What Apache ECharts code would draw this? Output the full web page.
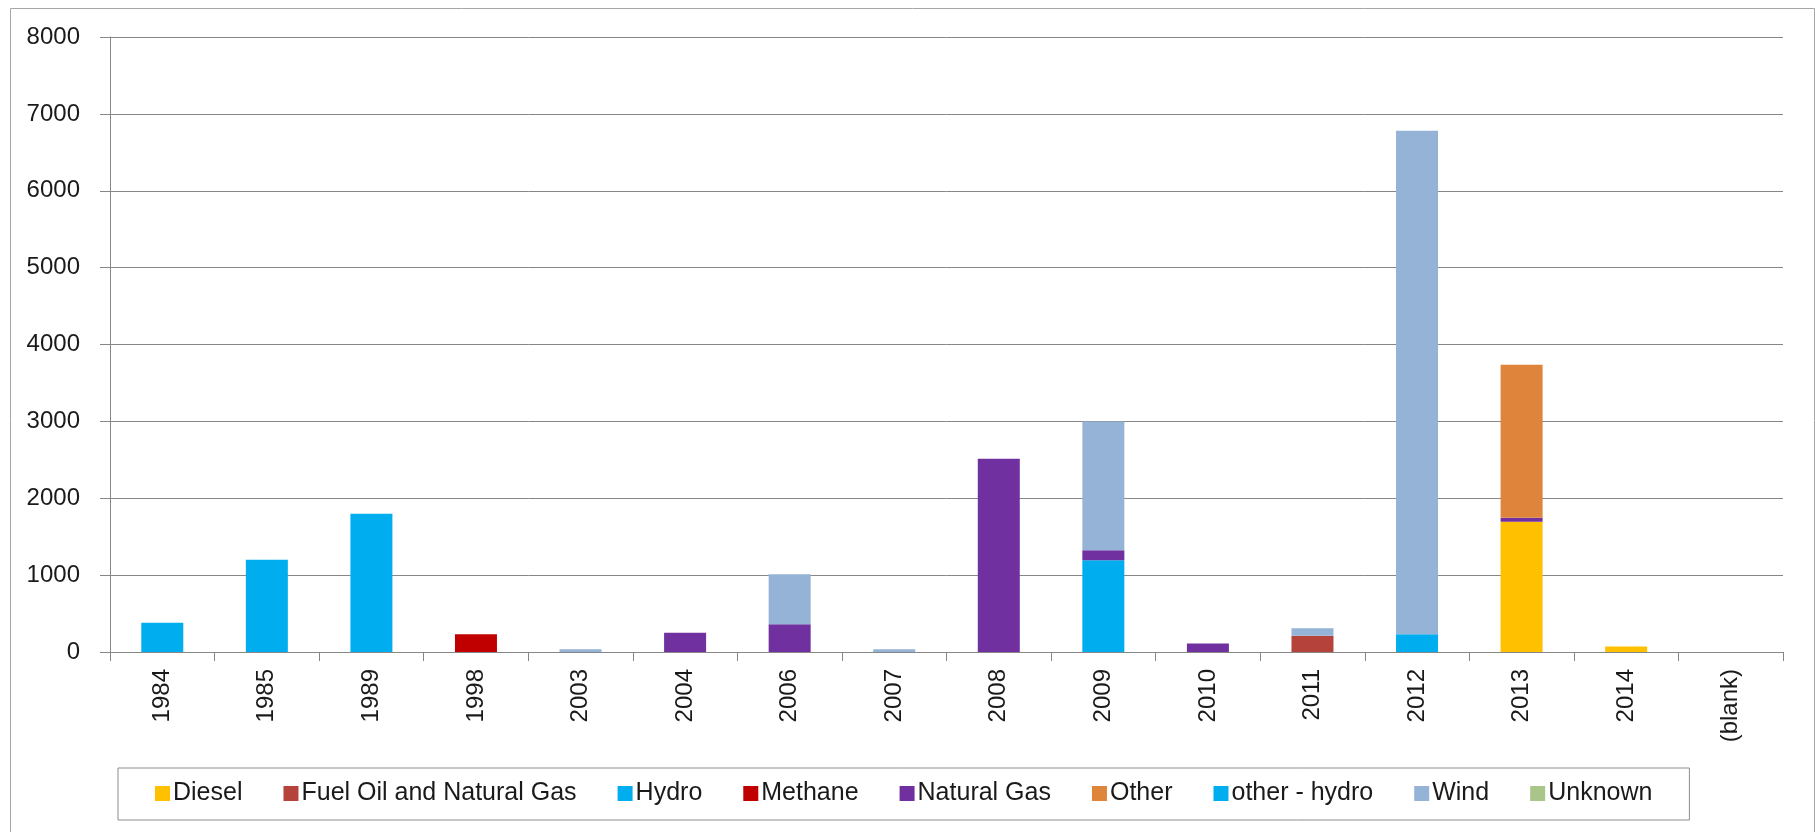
<!DOCTYPE html>
<html>
<head>
<meta charset="utf-8">
<title>Capacity by year and fuel type</title>
<script src="https://cdn.jsdelivr.net/npm/echarts@6/dist/echarts.min.js"></script>
<style>
    html, body { margin: 0; padding: 0; background: #fff; }
    #columns_stacked { width: 1815px; height: 832px; }
</style>
</head>
<body>
<div id="columns_stacked"></div>
<script>
/* ------------------------------------------------------------------------------
 *
 *  # Stacked columns - capacity by year and fuel type
 *
 * ---------------------------------------------------------------------------- */

// Data
// ------------------------------

var years = ['1984', '1985', '1989', '1998', '2003', '2004', '2006', '2007',
             '2008', '2009', '2010', '2011', '2012', '2013', '2014', '(blank)'];

var diesel      = [0, 0, 0, 0, 0, 0, 0, 0, 0, 0, 0, 0, 0, 1695, 70, 0];
var fuelOilGas  = [0, 0, 0, 0, 0, 0, 0, 0, 0, 0, 0, 210, 0, 0, 0, 0];
var hydro       = [380, 1200, 1800, 0, 0, 0, 0, 0, 0, 1195, 0, 0, 230, 0, 0, 0];
var methane     = [0, 0, 0, 230, 0, 0, 0, 0, 0, 0, 0, 0, 0, 0, 0, 0];
var naturalGas  = [0, 0, 0, 0, 0, 250, 360, 0, 2515, 130, 110, 0, 0, 50, 0, 0];
var other       = [0, 0, 0, 0, 0, 0, 0, 0, 0, 0, 0, 0, 0, 1990, 0, 0];
var otherHydro  = [0, 0, 0, 0, 0, 0, 0, 0, 0, 0, 0, 0, 0, 0, 0, 0];
var wind        = [0, 0, 0, 0, 35, 0, 650, 35, 0, 1675, 0, 100, 6550, 0, 0, 0];
var unknown     = [0, 0, 0, 0, 0, 0, 0, 0, 0, 0, 0, 0, 0, 0, 0, 0];

var yTicks = [0, 1000, 2000, 3000, 4000, 5000, 6000, 7000, 8000];


// Setup module
// ------------------------------

var EchartsColumnsStacked = function() {

    // Build one stacked bar series
    var _bar = function(name, data, color) {
        return {
            name: name,
            type: 'bar',
            stack: 'total',
            barWidth: 42,
            data: data,
            itemStyle: {
                color: color
            }
        };
    };

    var _columnsStacked = function() {
        if (typeof echarts == 'undefined') {
            console.warn('Warning - echarts.min.js is not loaded.');
            return;
        }

        var element = document.getElementById('columns_stacked');
        if (!element) return;

        var chart = echarts.init(element, null, { renderer: 'canvas' });

        var axisGray = '#878787';
        var font = '"Liberation Sans", Arial, sans-serif';

        chart.setOption({
            animation: false,
            backgroundColor: '#fff',

            textStyle: {
                fontFamily: font
            },

            // Outer chart border
            graphic: [{
                type: 'rect',
                left: 8,
                top: 6,
                shape: { width: 1804, height: 824 },
                style: { fill: 'none', stroke: '#a6a6a6', lineWidth: 1 },
                silent: true
            }],

            grid: {
                left: 110,
                right: 32,
                top: 37,
                bottom: 180,
                containLabel: false
            },

            legend: {
                left: 118,
                top: 768,
                padding: [13, 37, 14, 37],
                itemWidth: 15,
                itemHeight: 15,
                itemGap: 41,
                icon: 'rect',
                borderColor: '#8c8c8c',
                borderWidth: 1,
                textStyle: {
                    fontFamily: font,
                    fontSize: 25,
                    color: '#1a1a1a',
                    padding: [0, 0, 0, -2]
                },
                data: ['Diesel', 'Fuel Oil and Natural Gas', 'Hydro', 'Methane',
                       'Natural Gas', 'Other', 'other - hydro', 'Wind', 'Unknown']
            },

            // Horizontal axis
            xAxis: [{
                type: 'category',
                data: years,
                boundaryGap: true,
                axisLine: {
                    lineStyle: { color: axisGray, width: 1 }
                },
                axisTick: {
                    show: true,
                    length: 9,
                    lineStyle: { color: axisGray }
                },
                axisLabel: {
                    rotate: 90,
                    margin: 17,
                    fontSize: 24,
                    color: '#1a1a1a',
                    interval: 0
                },
                splitLine: { show: false }
            }],

            // Vertical axis
            yAxis: [{
                type: 'value',
                min: yTicks[0],
                max: yTicks[yTicks.length - 1],
                interval: yTicks[1] - yTicks[0],
                axisLine: {
                    show: true,
                    lineStyle: { color: axisGray, width: 1 }
                },
                axisTick: {
                    show: true,
                    length: 10,
                    lineStyle: { color: axisGray }
                },
                axisLabel: {
                    margin: 30,
                    fontSize: 24,
                    color: '#1a1a1a',
                    formatter: function(value) {
                        return String(value);
                    }
                },
                splitLine: {
                    show: true,
                    lineStyle: { color: axisGray, width: 1 }
                }
            }],

            series: [
                _bar('Diesel', diesel, '#FFC000'),
                _bar('Fuel Oil and Natural Gas', fuelOilGas, '#B6423C'),
                _bar('Hydro', hydro, '#00AEEF'),
                _bar('Methane', methane, '#C00000'),
                _bar('Natural Gas', naturalGas, '#7030A0'),
                _bar('Other', other, '#DE843B'),
                _bar('other - hydro', otherHydro, '#00AEEF'),
                _bar('Wind', wind, '#95B3D7'),
                _bar('Unknown', unknown, '#A9C58A')
            ]
        });
    };

    return {
        init: function() {
            _columnsStacked();
        }
    }
}();


// Initialize module
// ------------------------------

document.addEventListener('DOMContentLoaded', function() {
    EchartsColumnsStacked.init();
});
</script>
</body>
</html>
